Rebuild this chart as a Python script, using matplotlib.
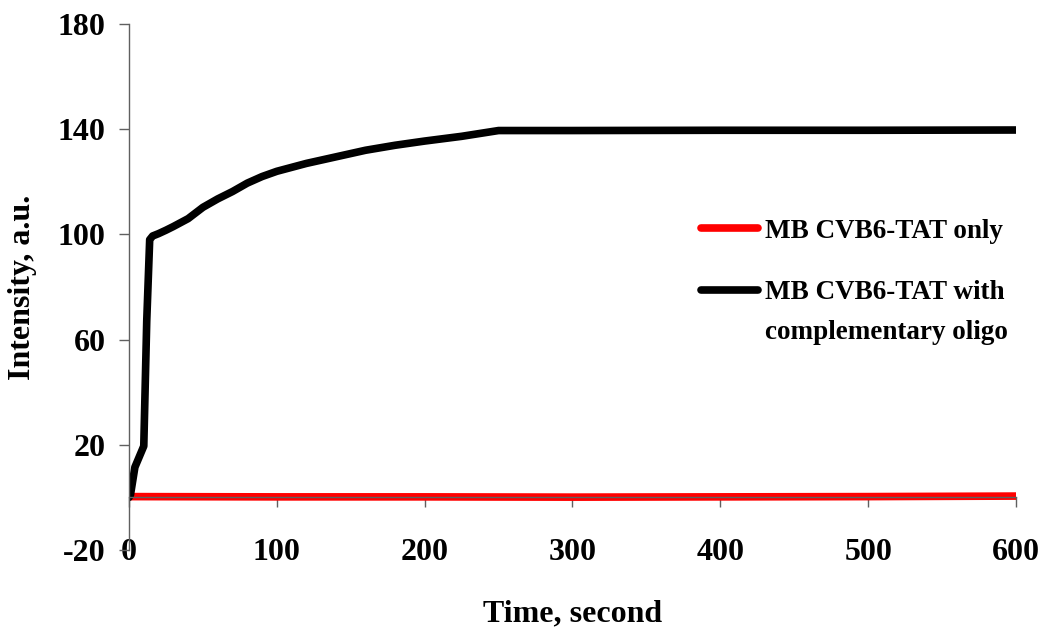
import matplotlib
matplotlib.use("Agg")
import matplotlib.pyplot as plt
from matplotlib.legend_handler import HandlerLine2D

# intensity traces, read in seconds
t_probe = [0, 100, 200, 300, 400, 500, 600]
i_probe = [0.3, 0.2, 0.2, 0.1, 0.2, 0.3, 0.5]

t_hybrid = [0, 1, 4, 10, 12, 14, 16, 20, 25, 30, 40, 50, 60, 70, 80, 90, 100,
            120, 140, 160, 180, 200, 225, 250, 300, 400, 500, 600]
i_hybrid = [0, 1, 11.5, 19.5, 67, 98, 99.4, 100.3, 101.6, 103, 106, 110.3,
            113.5, 116.3, 119.5, 122, 124, 127, 129.5, 132, 133.9, 135.5,
            137.3, 139.5, 139.5, 139.6, 139.6, 139.7]

labels = ["MB CVB6-TAT only", "MB CVB6-TAT with\ncomplementary oligo"]
y_ticks = [-20, 20, 60, 100, 140, 180]
x_ticks = [0, 100, 200, 300, 400, 500, 600]

plt.rcParams["font.family"] = "Liberation Serif"
plt.rcParams["font.weight"] = "bold"
plt.rcParams["axes.unicode_minus"] = False
FS = 23
LEG_FS = 19.5


class FirstLineHandler(HandlerLine2D):
    # put the handle on the first text line of a two-line label
    def __init__(self, shift=0.0, **kw):
        super().__init__(**kw)
        self.shift = shift

    def create_artists(self, legend, orig_handle, xdescent, ydescent,
                       width, height, fontsize, trans):
        arts = super().create_artists(legend, orig_handle, xdescent, ydescent,
                                      width, height, fontsize, trans)
        for a in arts:
            a.set_ydata([y + self.shift * fontsize for y in a.get_ydata()])
        return arts


fig = plt.figure(figsize=(10.47, 6.34), dpi=100)
ax = fig.add_axes([0.1232, 0.1325, 0.8472, 0.8296])

l1, = ax.plot(t_probe, i_probe, color="#ff0000", lw=5.5, solid_capstyle="round")
l2, = ax.plot(t_hybrid, i_hybrid, color="black", lw=5.5, solid_capstyle="round")

ax.set_xlim(0, 600)
ax.set_ylim(-20, 180)
ax.set_xticks(x_ticks)
ax.set_yticks(y_ticks)

for s in ["top", "right"]:
    ax.spines[s].set_visible(False)
ax.spines["bottom"].set_position(("data", 0))
for s in ["left", "bottom"]:
    ax.spines[s].set_color("#606060")
    ax.spines[s].set_linewidth(1.0)

ax.tick_params(axis="y", direction="out", length=7, width=1, color="#606060",
               labelsize=FS, pad=10)
ax.tick_params(axis="x", direction="out", length=7, width=1, color="#606060",
               labelsize=FS, pad=22)

ax.set_xlabel("Time, second", fontsize=FS, fontweight="bold")
ax.xaxis.set_label_coords(0.5, -0.093)
ax.set_ylabel("Intensity, a.u.", fontsize=FS, fontweight="bold")
ax.yaxis.set_label_coords(-0.104, 0.5)

leg = ax.legend([l1, l2], labels, loc="upper left",
                bbox_to_anchor=(0.630, 0.656), frameon=False,
                fontsize=LEG_FS, borderpad=0, handlelength=2.1,
                handletextpad=0.25, labelspacing=1.36,
                handler_map={l2: FirstLineHandler(shift=0.85)})
for txt in leg.get_texts():
    txt.set_linespacing(1.76)

fig.savefig("out.png", dpi=100)
